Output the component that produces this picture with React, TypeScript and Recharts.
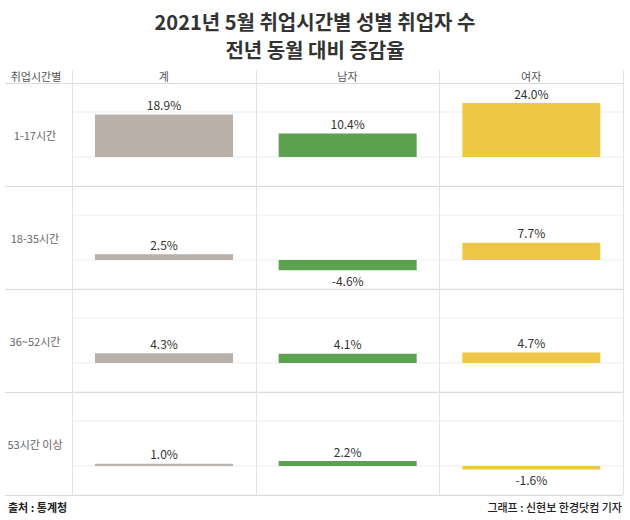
import React from 'react';
import { BarChart, Bar, XAxis, YAxis, Cell, LabelList, CartesianGrid } from 'recharts';

// 취업시간별 성별 취업자 수 전년 동월 대비 증감율 (%)
const hours = ['1-17시간', '18-35시간', '36~52시간', '53시간 이상'];
const groups = ['계', '남자', '여자'];
const total = [18.9, 2.5, 4.3, 1.0];
const male = [10.4, -4.6, 4.1, 2.2];
const female = [24.0, 7.7, 4.7, -1.6];
const yTicks = [0, 20];
const colors = ['#b9b0aa', '#5ba14f', '#ecc846'];

const FONT = '"Noto Sans CJK KR", "Noto Sans", sans-serif';
const LEFT = 72;
const RIGHT = 623;
const TOP = 83;
const ROW_H = 103;
const COL_W = (RIGHT - LEFT) / 3;

function ValueLabel(props: any) {
  const { x, y, width, height, value } = props;
  const top = Math.min(y, y + height);
  const bottom = Math.max(y, y + height);
  const ty = value >= 0 ? top - 10 : bottom + 10;
  return (
    <text x={x + width / 2} y={ty} textAnchor="middle" dominantBaseline="central"
      fontSize={12} fill="#333" fontFamily={FONT}>
      {value.toFixed(1)}%
    </text>
  );
}

function Row({ i }: { i: number }) {
  const data = groups.map((g, k) => ({ group: g, value: [total, male, female][k][i] }));
  return (
    <BarChart width={RIGHT - LEFT} height={ROW_H} data={data}
      margin={{ top: 0, right: 0, bottom: 0, left: 0 }} barCategoryGap={23}>
      <CartesianGrid vertical={false} stroke="#ececec" />
      <XAxis dataKey="group" hide />
      <YAxis hide domain={[-12.9, 32.9]} ticks={yTicks} allowDataOverflow />
      <Bar dataKey="value" isAnimationActive={false}>
        {data.map((d, k) => <Cell key={k} fill={colors[k]} />)}
        <LabelList dataKey="value" content={ValueLabel} />
      </Bar>
    </BarChart>
  );
}

export default function App() {
  return (
    <div style={styles.page}>
      <div style={styles.title}>2021년 5월 취업시간별 성별 취업자 수</div>
      <div style={{ ...styles.title, top: 36 }}>전년 동월 대비 증감율</div>

      <div style={{ ...styles.header, left: 0, width: LEFT }}>취업시간별</div>
      {groups.map((g, k) => (
        <div key={g} style={{ ...styles.header, left: LEFT + k * COL_W, width: COL_W }}>{g}</div>
      ))}

      {hours.map((h, i) => (
        <React.Fragment key={h}>
          <div style={{ ...styles.rowLabel, top: TOP + i * ROW_H + ROW_H / 2 - 10 }}>{h}</div>
          <div style={{ position: 'absolute', left: LEFT, top: TOP + i * ROW_H }}>
            <Row i={i} />
          </div>
        </React.Fragment>
      ))}

      {/* 가로 구분선 */}
      {[0, 1, 2, 3, 4].map(r => (
        <div key={r} style={{ ...styles.hLine, top: TOP + r * ROW_H }} />
      ))}
      {/* 세로 구분선 */}
      {[0, 1, 2, 3].map(c => (
        <div key={c} style={{ ...styles.vLine, left: LEFT + c * COL_W }} />
      ))}

      <div style={{ ...styles.footer, left: 8, fontWeight: 700 }}>출처 : 통계청</div>
      <div style={{ ...styles.footer, right: 8, fontWeight: 500 }}>그래프 : 신현보 한경닷컴 기자</div>
    </div>
  );
}

const styles: Record<string, React.CSSProperties> = {
  page: {
    position: 'absolute', left: 0, top: 0, width: 630, height: 520,
    background: '#fff', fontFamily: FONT, color: '#333', overflow: 'hidden',
  },
  title: {
    position: 'absolute', left: 0, top: 8, width: 630, textAlign: 'center',
    fontSize: 20, fontWeight: 700, color: '#333', lineHeight: '28px',
  },
  header: {
    position: 'absolute', top: 68, height: 16, lineHeight: '16px',
    textAlign: 'center', fontSize: 11, color: '#555',
  },
  hLine: { position: 'absolute', left: 5, width: RIGHT - 5, height: 1, background: '#dcdcdc' },
  vLine: { position: 'absolute', top: 70, width: 1, height: TOP + 4 * ROW_H - 70, background: '#e2e2e2' },
  rowLabel: {
    position: 'absolute', left: 0, width: LEFT - 2, height: 20, lineHeight: '20px',
    textAlign: 'center', fontSize: 11, color: '#666',
  },
  footer: { position: 'absolute', top: 499, fontSize: 11, color: '#222', lineHeight: '16px' },
};
